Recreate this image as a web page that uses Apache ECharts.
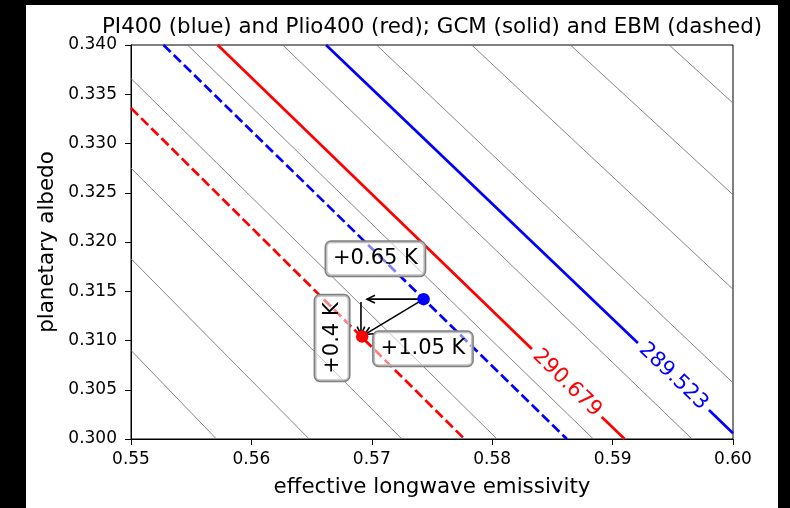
<!DOCTYPE html>
<html><head><meta charset="utf-8">
<script src="https://cdn.jsdelivr.net/npm/echarts@6/dist/echarts.min.js"></script>
<style>html,body{margin:0;padding:0;background:#000;}#c{width:790px;height:508px;}</style>
</head><body><div id="c"></div>
<script>
// ---- data ----
const xTicks = [0.55, 0.56, 0.57, 0.58, 0.59, 0.60];
const yTicks = [0.300, 0.305, 0.310, 0.315, 0.320, 0.325, 0.330, 0.335, 0.340];
// thin temperature contours (295 K ... 286 K): [eps1, alb1, eps2, alb2]
const grayContours = [
  [0.5500, 0.3090, 0.5571, 0.3000],
  [0.5500, 0.3183, 0.5648, 0.3000],
  [0.5500, 0.3275, 0.5725, 0.3000],
  [0.5500, 0.3366, 0.5804, 0.3000],
  [0.5547, 0.3400, 0.5884, 0.3000],
  [0.5626, 0.3400, 0.5966, 0.3000],
  [0.5704, 0.3400, 0.6000, 0.3057],
  [0.5783, 0.3400, 0.6000, 0.3152],
  [0.5865, 0.3400, 0.6000, 0.3248],
  [0.5947, 0.3400, 0.6000, 0.3341]
];
// GCM contours (solid), broken where the inline label sits
const blueSolid = [[[0.5662, 0.3400], [0.5921, 0.30975]], [[0.5980, 0.30294], [0.6000, 0.30058]]];
const redSolid  = [[[0.5572, 0.3400], [0.5833, 0.30913]], [[0.5891, 0.30223], [0.5910, 0.3000]]];
// EBM contours (dashed)
const blueDashed = [[0.5527, 0.3400], [0.5862, 0.3000]];
const redDashed  = [[0.5500, 0.3336], [0.5777, 0.3000]];
// points
const bluePoint = [0.5743, 0.3142];
const redPoint  = [0.5692, 0.3104];
// arrows [eps0, alb0, eps1, alb1]
const arrows = [
  [0.5743, 0.3142, 0.5696, 0.3142],
  [0.5691, 0.3139, 0.5691, 0.3106],
  [0.5743, 0.3142, 0.5694, 0.3106]
];
// annotation boxes
const boxTexts = ['+0.65 K', '+1.05 K', '+0.4 K'];
const boxPos = [[0.5703, 0.31829], [0.57425, 0.30916], [0.5667, 0.31025]];
const boxRot = [0, 0, 90];
// inline contour labels
const contourLabels = ['289.523', '290.679'];
const contourLabelPos = [[0.59505, 0.30635], [0.58621, 0.30567]];
const contourLabelColors = ['#0000ff', '#ff0000'];
const contourLabelRot = [-43.7, -44.2];

const titleText = 'PI400 (blue) and Plio400 (red); GCM (solid) and EBM (dashed)';
const xLabel = 'effective longwave emissivity';
const yLabel = 'planetary albedo';

// ---- chart ----
const FONT = '"DejaVu Sans", sans-serif';
const chart = echarts.init(document.getElementById('c'), null, {renderer: 'canvas'});
const series = [];
grayContours.forEach(c => series.push({
  type: 'line', data: [[c[0], c[1]], [c[2], c[3]]], symbol: 'none', silent: true, z: 2,
  lineStyle: {color: '#777777', width: 0.9}, animation: false
}));
function seg(pts, color, dashed) {
  series.push({
    type: 'line', data: pts, symbol: 'none', silent: true, z: 3, animation: false,
    lineStyle: {color: color, width: 2.7, type: dashed ? [10, 4.3] : 'solid', cap: 'butt'}
  });
}
blueSolid.forEach(p => seg(p, '#0000ff', false));
redSolid.forEach(p => seg(p, '#ff0000', false));
seg(blueDashed, '#0000ff', true);
seg(redDashed, '#ff0000', true);

series.push({
  type: 'scatter', data: [bluePoint], symbol: 'circle', symbolSize: 12.5, z: 7, silent: true,
  itemStyle: {color: '#0000ff', opacity: 1}, animation: false
});
series.push({
  type: 'scatter', data: [redPoint], symbol: 'circle', symbolSize: 12.5, z: 7, silent: true,
  itemStyle: {color: '#ff0000', opacity: 1}, animation: false
});

series.push({
  type: 'custom', data: arrows, z: 6, silent: true, animation: false,
  encode: {x: [0, 2], y: [1, 3]},
  renderItem: function (params, api) {
    const a = api.coord([api.value(0), api.value(1)]);
    const b = api.coord([api.value(2), api.value(3)]);
    const dx = b[0] - a[0], dy = b[1] - a[1], L = Math.hypot(dx, dy);
    const ux = dx / L, uy = dy / L, hl = 8, hw = 3.8;
    const bx = b[0] - ux * hl, by = b[1] - uy * hl;
    return {type: 'group', children: [
      {type: 'line', shape: {x1: a[0], y1: a[1], x2: b[0], y2: b[1]}, style: {stroke: '#000', lineWidth: 1.6}},
      {type: 'polyline', shape: {points: [[bx - uy * hw, by + ux * hw], [b[0], b[1]], [bx + uy * hw, by - ux * hw]]},
        style: {stroke: '#000', lineWidth: 1.6, fill: 'none'}}
    ]};
  }
});

series.push({
  type: 'custom', data: boxPos, z: 5, silent: true, animation: false,
  encode: {x: 0, y: 1},
  renderItem: function (params, api) {
    const p = api.coord([api.value(0), api.value(1)]);
    const i = params.dataIndex;
    return {type: 'text', x: p[0], y: p[1], rotation: boxRot[i] * Math.PI / 180,
      style: {text: boxTexts[i], fill: '#000', fontSize: 21, fontFamily: FONT,
        align: 'center', verticalAlign: 'middle', lineHeight: 22,
        backgroundColor: 'rgba(255,255,255,0.5)', borderColor: '#808080', borderWidth: 1.5,
        borderRadius: 5, padding: [6, 7, 6, 7]}};
  }
});

series.push({
  type: 'custom', data: contourLabelPos, z: 5, silent: true, animation: false,
  encode: {x: 0, y: 1},
  renderItem: function (params, api) {
    const p = api.coord([api.value(0), api.value(1)]);
    const i = params.dataIndex;
    return {type: 'text', x: p[0], y: p[1], rotation: contourLabelRot[i] * Math.PI / 180,
      style: {text: contourLabels[i], fill: contourLabelColors[i], fontSize: 21, fontFamily: FONT,
        align: 'center', verticalAlign: 'middle'}};
  }
});

const option = {
  backgroundColor: '#000',
  animation: false,
  grid: {left: 131, right: 57, top: 45, bottom: 69, show: true, backgroundColor: '#fff',
    borderColor: '#000', borderWidth: 1, containLabel: false, outerBoundsMode: 'none'},
  xAxis: {
    type: 'value', min: xTicks[0], max: xTicks[xTicks.length - 1], interval: 0.01,
    axisLine: {show: true, lineStyle: {color: '#000', width: 1}},
    axisTick: {show: true, inside: false, length: 6, lineStyle: {color: '#000', width: 1}},
    axisLabel: {show: true, margin: 12, color: '#000', fontSize: 17, fontFamily: FONT,
      showMinLabel: true, showMaxLabel: true, hideOverlap: false,
      formatter: v => v.toFixed(2)},
    splitLine: {show: false}
  },
  yAxis: {
    type: 'value', min: yTicks[0], max: yTicks[yTicks.length - 1], interval: 0.005,
    axisLine: {show: true, lineStyle: {color: '#000', width: 1}},
    axisTick: {show: true, inside: false, length: 6, lineStyle: {color: '#000', width: 1}},
    axisLabel: {show: true, margin: 14, color: '#000', fontSize: 17, fontFamily: FONT,
      showMinLabel: true, showMaxLabel: true, hideOverlap: false,
      formatter: v => v.toFixed(3)},
    splitLine: {show: false}
  },
  graphic: [
    {type: 'rect', x: 26, y: 5, z: -100, shape: {x: 0, y: 0, width: 752, height: 503}, style: {fill: '#fff'}, silent: true},
    {type: 'text', x: 432, y: 27, z: 100, style: {text: titleText, fill: '#000', fontSize: 21.4, fontFamily: FONT, align: 'center', verticalAlign: 'middle'}},
    {type: 'text', x: 432, y: 487, z: 100, style: {text: xLabel, fill: '#000', fontSize: 21.4, fontFamily: FONT, align: 'center', verticalAlign: 'middle'}},
    {type: 'text', x: 47, y: 242, z: 100, rotation: Math.PI / 2, style: {text: yLabel, fill: '#000', fontSize: 21.4, fontFamily: FONT, align: 'center', verticalAlign: 'middle'}}
  ],
  series: series
};
chart.setOption(option);
</script>
</body></html>
